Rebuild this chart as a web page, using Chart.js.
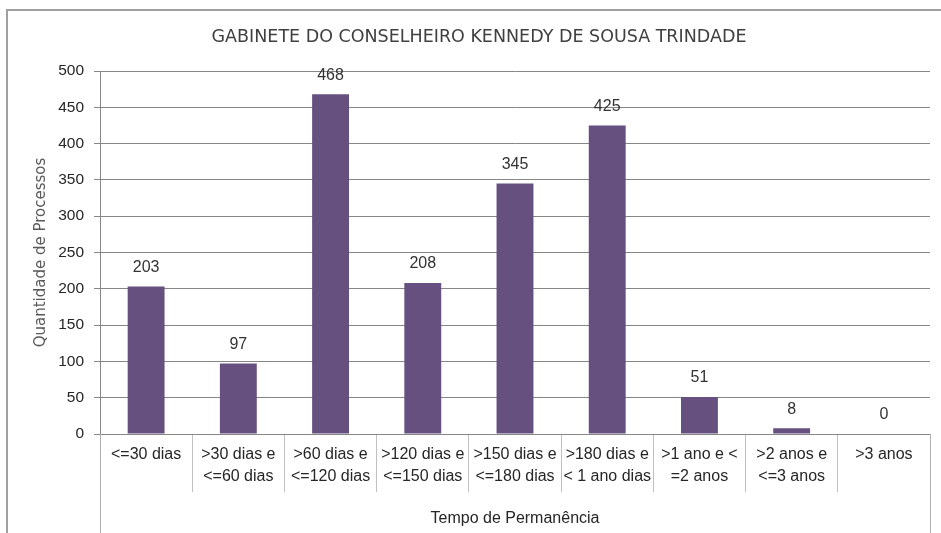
<!DOCTYPE html>
<html>
<head>
<meta charset="utf-8">
<title>Gabinete - Tempo de Permanência</title>
<script src="https://cdn.jsdelivr.net/npm/chart.js@4"></script>
<style>
  body { margin: 0; background: #fff; }
  #wrap { width: 941px; height: 533px; }
</style>
</head>
<body>
<div id="wrap"><canvas id="tempoChart" width="941" height="533"></canvas></div>
<script>
// Chart data
const chartTitle = 'GABINETE DO CONSELHEIRO KENNEDY DE SOUSA TRINDADE';
const categories = [
  ['<=30 dias'],
  ['>30 dias e', '<=60 dias'],
  ['>60 dias e', '<=120 dias'],
  ['>120 dias e', '<=150 dias'],
  ['>150 dias e', '<=180 dias'],
  ['>180 dias e', '< 1 ano dias'],
  ['>1 ano e <', '=2 anos'],
  ['>2 anos e', '<=3 anos'],
  ['>3 anos']
];
const processCounts = [203, 97, 468, 208, 345, 425, 51, 8, 0];
const yTitle = 'Quantidade de Processos';
const xTitle = 'Tempo de Permanência';
const yMin = 0;
const yMax = 500;
const yStep = 50;

// value labels above the bars
const barValues = {
  id: 'barValues',
  afterDatasetsDraw(chart) {
    const ctx = chart.ctx;
    const meta = chart.getDatasetMeta(0);
    ctx.save();
    ctx.font = '16px "Liberation Sans", sans-serif';
    ctx.fillStyle = '#333333';
    ctx.textAlign = 'center';
    ctx.textBaseline = 'middle';
    meta.data.forEach((bar, i) => {
      ctx.fillText(String(chart.data.datasets[0].data[i]), bar.x, bar.y - 19);
    });
    ctx.restore();
  }
};

// outer frame + vertical lines under the category table
const frame = {
  id: 'frame',
  afterDraw(chart) {
    const ctx = chart.ctx;
    const area = chart.chartArea;
    ctx.save();
    ctx.strokeStyle = '#a0a0a0';
    ctx.lineWidth = 2;
    ctx.beginPath();
    ctx.moveTo(7, chart.height);
    ctx.lineTo(7, 10);
    ctx.lineTo(chart.width, 10);
    ctx.stroke();

    ctx.strokeStyle = '#b0b0b0';
    ctx.lineWidth = 1;
    ctx.beginPath();
    ctx.moveTo(Math.round(area.left) + 0.5, area.bottom);
    ctx.lineTo(Math.round(area.left) + 0.5, chart.height);
    ctx.moveTo(Math.round(area.right) + 0.5, area.bottom);
    ctx.lineTo(Math.round(area.right) + 0.5, chart.height);
    ctx.stroke();
    ctx.restore();
  }
};

const ctx = document.getElementById('tempoChart');
const chart = new Chart(ctx, {
  type: 'bar',
  data: {
    labels: categories,
    datasets: [{
      label: xTitle,
      data: processCounts,
      backgroundColor: '#65507f',
      borderWidth: 0,
      barPercentage: 0.4,
      categoryPercentage: 1
    }]
  },
  options: {
    responsive: false,
    animation: false,
    layout: {
      padding: { left: 28, right: 11, top: 0, bottom: 0 }
    },
    scales: {
      x: {
        grid: {
          offset: true,
          drawOnChartArea: false,
          tickLength: 58,
          color: '#c0c0c0'
        },
        border: { color: '#868686' },
        ticks: {
          autoSkip: false,
          maxRotation: 0,
          padding: -48,
          color: '#262626',
          font: { family: '"Liberation Sans", sans-serif', size: 16, lineHeight: 1.375 }
        },
        title: {
          display: true,
          text: xTitle,
          color: '#262626',
          padding: { top: 0, bottom: 5 },
          font: { family: '"Liberation Sans", sans-serif', size: 16 }
        },
        afterFit(scale) {
          scale.height = 99;
        }
      },
      y: {
        min: yMin,
        max: yMax,
        grid: {
          color: '#868686',
          tickLength: 6
        },
        border: { color: '#868686' },
        ticks: {
          stepSize: yStep,
          padding: 10,
          color: '#262626',
          font: { family: '"Liberation Sans", sans-serif', size: 15.5 }
        },
        title: {
          display: true,
          text: yTitle,
          color: '#595959',
          padding: { top: 4, bottom: 0 },
          font: { family: '"DejaVu Sans", sans-serif', size: 15 }
        },
        afterFit(scale) {
          scale.width = 72;
        }
      }
    },
    plugins: {
      legend: { display: false },
      tooltip: { enabled: false },
      title: {
        display: true,
        text: chartTitle,
        color: '#404040',
        padding: { top: 27, bottom: 23 },
        font: { family: '"DejaVu Sans", sans-serif', size: 17.5, weight: 'normal', lineHeight: 1.2 }
      }
    }
  },
  plugins: [barValues, frame]
});
</script>
</body>
</html>
